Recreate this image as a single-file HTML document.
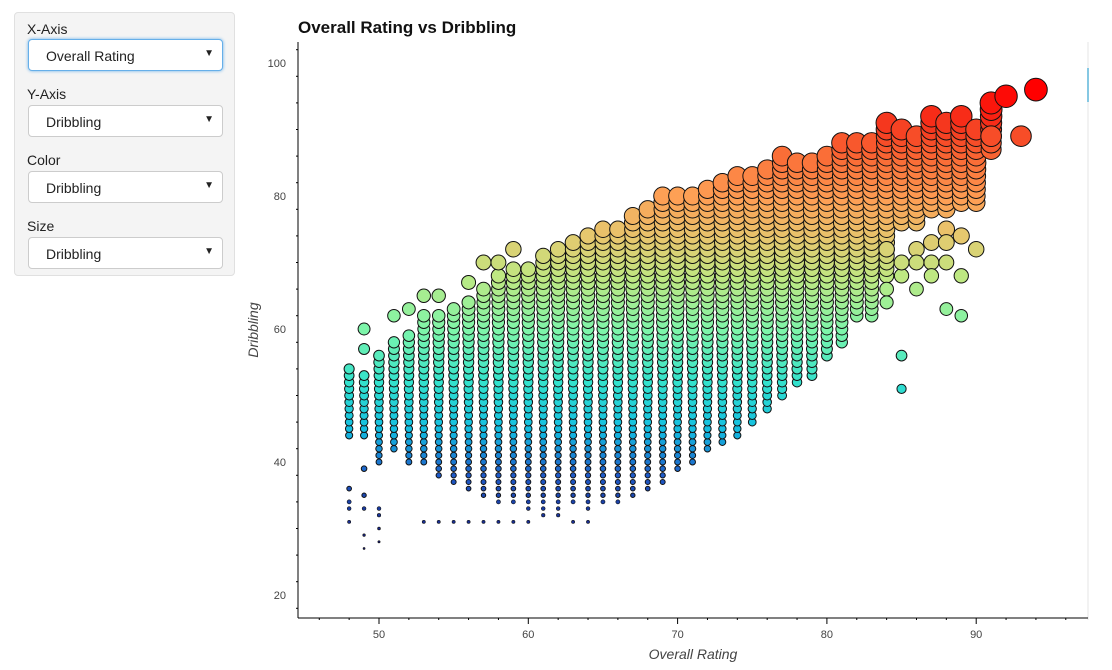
<!DOCTYPE html>
<html><head><meta charset="utf-8"><style>
body{margin:0;width:1112px;height:670px;background:#fff;font-family:"Liberation Sans",sans-serif;position:relative;overflow:hidden}
.panel{position:absolute;left:14px;top:12px;width:219px;height:262px;background:#f4f4f4;border:1px solid #e0e0e0;border-radius:4px}
.lbl{position:absolute;left:12px;font-size:14px;color:#222}
.sel{position:absolute;left:13px;width:195px;height:32px;background:#fff;border:1px solid #ccc;border-radius:4px;box-sizing:border-box;font-size:14px;color:#222;padding:8px 0 0 17px}
.sel span{position:absolute;right:8px;top:8px;font-size:10px}
</style></head><body>
<div class="panel">
<div class="lbl" style="top:8px">X-Axis</div>
<div class="sel" style="top:26px;border-color:#66afe9;box-shadow:0 0 3px #66afe9">Overall Rating<span>▼</span></div>
<div class="lbl" style="top:73px">Y-Axis</div>
<div class="sel" style="top:92px">Dribbling<span>▼</span></div>
<div class="lbl" style="top:139px">Color</div>
<div class="sel" style="top:158px">Dribbling<span>▼</span></div>
<div class="lbl" style="top:205px">Size</div>
<div class="sel" style="top:224px">Dribbling<span>▼</span></div>
</div>
<svg id="chart" width="1112" height="670" style="position:absolute;left:0;top:0">
<text x="298" y="33" font-size="17" font-weight="bold" fill="#111">Overall Rating vs Dribbling</text>
<rect x="1087" y="68" width="2" height="34" fill="#26aae1"/>
<line x1="1088" y1="42" x2="1088" y2="620" stroke="#e5e5e5"/>
<g id="pts"></g><g id="axes"></g>
<text x="693" y="659" font-size="14" font-style="italic" fill="#444" text-anchor="middle">Overall Rating</text>
<text transform="translate(258,330) rotate(-90)" font-size="14" font-style="italic" fill="#444" text-anchor="middle">Dribbling</text>
</svg>
<script>
const colX=[48,49,50,51,52,53,54,55,56,57,58,59,60,61,62,63,64,65,66,67,68,69,70,71,72,73,74,75,76,77,78,79,80,81,82,83,84,85,86,87,88,89,90,91,92,93,94];
const colLo=[44,44,40,42,40,40,38,37,36,35,34,34,33,33,33,34,33,34,34,35,36,37,39,40,42,43,44,46,48,50,52,53,56,58,62,62,68,76,76,78,78,79,79,87,95,89,96];
const colHi=[54,53,56,58,59,62,62,63,64,66,68,69,69,71,72,73,74,75,75,77,78,80,80,80,81,82,83,83,84,86,85,85,86,88,88,88,91,90,89,92,91,92,90,94,95,89,96];
const extraX=[48,48,48,48,49,49,49,49,49,49,49,50,50,50,50,51,52,53,54,56,57,58,59,53,54,55,56,57,58,59,60,61,62,63,64,85,85,88,89,89,89,90,87,86,84,85,91,84,84,85,86,86,87,87,88,88,88];
const extraY=[36,34,33,31,57,60,39,35,33,29,27,33,32,30,28,62,63,65,65,67,70,70,72,31,31,31,31,31,31,31,31,32,32,31,31,56,51,63,62,68,74,72,73,72,72,68,89,66,64,70,70,66,70,68,75,70,73];
const xTicks=[50,60,70,80,90];
const yTicks=[20,40,60,80,100];
const X=v=>379+(v-50)*14.93, Y=v=>63+(100-v)*6.65;
const NS="http://www.w3.org/2000/svg";
const stops=[[27,[20,20,110]],[38,[30,90,200]],[45,[20,190,225]],[52,[50,225,205]],[60,[125,245,170]],[68,[190,232,130]],[74,[230,200,110]],[80,[253,160,85]],[86,[250,110,55]],[91,[245,55,30]],[96,[255,0,0]]];
function color(v){for(let i=1;i<stops.length;i++){if(v<=stops[i][0]){const a=stops[i-1],b=stops[i],t=(v-a[0])/(b[0]-a[0]);return 'rgb('+a[1].map((c,k)=>Math.round(c+(b[1][k]-c)*t)).join(',')+')';}}return 'rgb(255,0,0)';}
const rad=v=>Math.max(0.8,1+(v-27)*0.15);
const g=document.getElementById('pts');
function dot(x,y){const c=document.createElementNS(NS,'circle');
c.setAttribute('cx',X(x));c.setAttribute('cy',Y(y));c.setAttribute('r',rad(y));
c.setAttribute('fill',color(y));c.setAttribute('stroke','#111');c.setAttribute('stroke-width',y<35?0.6:1);


g.appendChild(c);}
colX.forEach((x,i)=>{for(let y=colLo[i];y<=colHi[i];y++)dot(x,y);});
extraX.forEach((x,i)=>dot(x,extraY[i]));
const ax=document.getElementById('axes');
function el(tag,attrs,txt){const e=document.createElementNS(NS,tag);for(const k in attrs)e.setAttribute(k,attrs[k]);if(txt!=null)e.textContent=txt;ax.appendChild(e);return e;}
const xa=el('line',{x1:298,y1:618,x2:1088,y2:618,stroke:'#000'});


const ya=el('line',{x1:298,y1:42,x2:298,y2:618,stroke:'#000'});


for(let v=46;v<=96;v+=2){const px=X(v);el('line',{x1:px,y1:618,x2:px,y2:v%10==0?624:620,stroke:'#000'});}
for(let v=18;v<=104;v+=4){const py=Y(v);if(py>42&&py<618)el('line',{x1:298,y1:py,x2:v%20==0?292:296,y2:py,stroke:'#000'});}
xTicks.forEach(v=>{const t=el('text',{x:X(v),y:638,'font-size':11,fill:'#444','text-anchor':'middle'},v);

});
yTicks.forEach(v=>{const t=el('text',{x:286,y:Y(v)+4,'font-size':11,fill:'#444','text-anchor':'end'},v);

});
</script>
</body></html>
